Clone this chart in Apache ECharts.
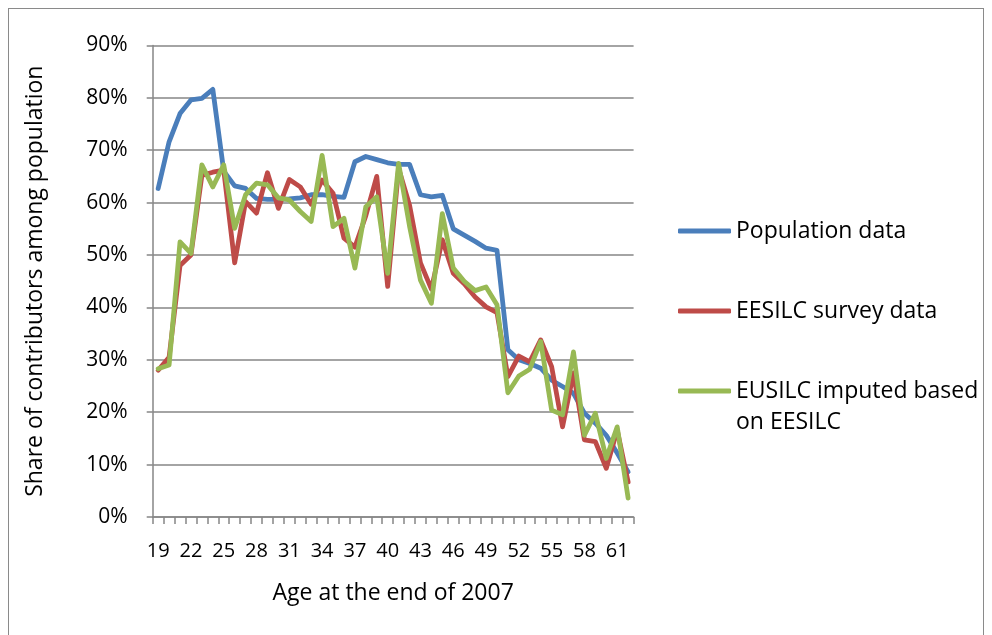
<!DOCTYPE html>
<html>
<head>
<meta charset="utf-8">
<script src="https://cdn.jsdelivr.net/npm/echarts@6/dist/echarts.min.js"></script>
<style>
html,body{margin:0;padding:0;background:#fff;}
#frame{position:absolute;left:8px;top:8px;width:976px;height:640px;border:1px solid #8a8a8a;box-sizing:border-box;}
#chart{position:absolute;left:0;top:0;width:992px;height:635px;}
</style>
</head>
<body>
<div id="frame"></div>
<div id="chart"></div>
<script>
const ages = ['19','20','21','22','23','24','25','26','27','28','29','30','31','32','33','34','35','36','37','38','39','40','41','42','43','44','45','46','47','48','49','50','51','52','53','54','55','56','57','58','59','60','61','62'];
const population = [62.7,71.6,77.0,79.6,79.9,81.6,66.0,63.2,62.7,60.8,60.6,60.6,60.7,60.9,61.5,61.5,61.2,61.0,67.8,68.8,68.2,67.6,67.3,67.3,61.5,61.1,61.4,55.0,53.8,52.6,51.3,50.9,31.9,30.0,29.3,28.4,26.1,24.9,23.6,19.8,17.9,15.6,12.2,8.6];
const eesilc = [28.0,30.5,48.0,50.0,65.2,65.8,66.2,48.5,60.2,58.0,65.7,58.9,64.4,63.0,59.7,64.3,61.8,53.2,51.5,57.5,65.0,44.0,66.5,59.5,48.5,43.5,52.9,46.5,44.5,42.0,40.1,39.0,26.8,30.7,29.6,33.8,28.7,17.2,27.5,14.7,14.4,9.3,16.6,6.7];
const eusilc = [28.3,29.0,52.5,50.3,67.2,63.0,67.2,55.1,61.5,63.7,63.4,60.9,60.5,58.3,56.4,69.0,55.4,57.0,47.5,59.2,61.1,46.5,67.5,55.5,45.2,40.8,57.9,47.5,45.0,43.2,43.9,40.5,23.7,26.9,28.2,33.5,20.4,19.5,31.5,15.6,19.8,11.2,17.2,3.6];
const seriesNames = ['Population data','EESILC survey data','EUSILC imputed based on EESILC'];
const legendLabels = ['Population data','EESILC survey data','EUSILC imputed based'];
const legendSecondLine = 'on EESILC';
const colors = ['#4a7ebb','#be4b48','#98b954'];
const FONT = 'Open Sans';

const chart = echarts.init(document.getElementById('chart'), null, {renderer:'canvas'});
const gray = '#868686';
function ls(c){return {width:4.8,color:c,cap:'round',join:'round'};}
chart.setOption({
  animation:false,
  color: colors,
  textStyle:{fontFamily:FONT},
  grid:{left:152.7, right:358.4, top:45.4, bottom:118, containLabel:false},
  xAxis:{
    type:'category',
    data:ages,
    boundaryGap:true,
    name:'Age at the end of 2007',
    nameLocation:'middle',
    nameGap:65,
    nameTextStyle:{fontFamily:FONT,fontSize:23,color:'#000'},
    axisLine:{lineStyle:{color:gray,width:1.5}},
    axisTick:{show:true,interval:0,length:7,lineStyle:{color:gray,width:1.5}},
    axisLabel:{interval:2,margin:24,fontFamily:FONT,fontSize:20,color:'#000'}
  },
  yAxis:{
    type:'value',
    min:0,max:90,interval:10,
    name:'Share of contributors among population',
    nameLocation:'middle',
    nameGap:106,
    nameTextStyle:{fontFamily:FONT,fontSize:23,color:'#000'},
    axisLine:{show:true,lineStyle:{color:gray,width:1.5}},
    axisTick:{show:true,length:6,lineStyle:{color:gray,width:1.5}},
    axisLabel:{formatter:'{value}%',margin:25,fontFamily:FONT,fontSize:21,color:'#000'},
    splitLine:{show:true,lineStyle:{color:gray,width:1.5}}
  },
  legend:{
    orient:'vertical',
    left:678, top:217,
    padding:0,
    itemWidth:53, itemHeight:5,
    itemGap:52,
    icon:'roundRect',
    data:seriesNames,
    formatter:function(n){return legendLabels[seriesNames.indexOf(n)];},
    textStyle:{fontFamily:FONT,fontSize:23,color:'#000',lineHeight:28}
  },
  graphic:[{
    type:'text', x:736, y:422,
    style:{text:legendSecondLine,fontFamily:FONT,fontSize:23,fill:'#000',verticalAlign:'middle',align:'left'}
  }],
  series:[
    {name:seriesNames[0],type:'line',data:population,symbol:'none',lineStyle:ls(colors[0]),itemStyle:{color:colors[0]}},
    {name:seriesNames[1],type:'line',data:eesilc,symbol:'none',lineStyle:ls(colors[1]),itemStyle:{color:colors[1]}},
    {name:seriesNames[2],type:'line',data:eusilc,symbol:'none',lineStyle:ls(colors[2]),itemStyle:{color:colors[2]}}
  ]
});
</script>
</body>
</html>
